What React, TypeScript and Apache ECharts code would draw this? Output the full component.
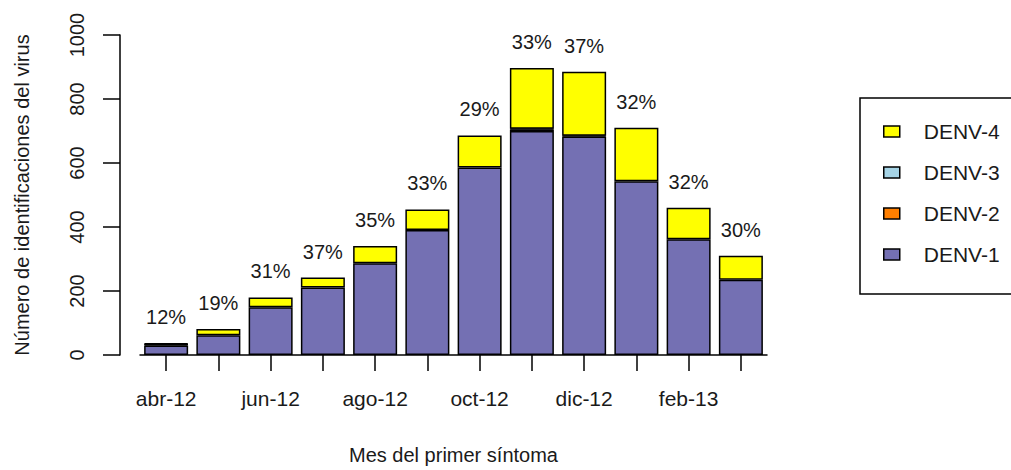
import React, { useEffect, useRef } from "react";
import * as echarts from "echarts";

const months = ["abr-12", "may-12", "jun-12", "jul-12", "ago-12", "sep-12", "oct-12", "nov-12", "dic-12", "ene-13", "feb-13", "mar-13"];
const denv1 = [30, 62, 149, 211, 287, 391, 586, 700, 683, 543, 362, 235];
const denv2 = [3, 0, 0, 0, 0, 0, 0, 5, 2, 0, 0, 0];
const denv3 = [1, 0, 0, 0, 0, 0, 0, 2, 0, 0, 0, 0];
const denv4 = [3, 19, 31, 31, 54, 64, 100, 190, 200, 167, 98, 75];
const percentLabels = ["12%", "19%", "31%", "37%", "35%", "33%", "29%", "33%", "37%", "32%", "32%", "30%"];
const yTicks = [0, 200, 400, 600, 800, 1000];

const FONT = "Liberation Sans, Arial, sans-serif";
const TXT = "#1a1a1a";

export default function App() {
  const ref = useRef<HTMLDivElement>(null);
  useEffect(() => {
    if (!ref.current) return;
    const chart = echarts.init(ref.current, null, { renderer: "svg" });
    const border = { borderColor: "#000", borderWidth: 1.5 };
    const mk = (name: string, data: number[], color: string, extra: any = {}) => ({
      name,
      type: "bar",
      stack: "total",
      data: data.map((v) => (v === 0 ? "-" : v)),
      barWidth: 44,
      itemStyle: { color, ...border },
      emphasis: { disabled: true },
      ...extra,
    });
    chart.setOption({
      animation: false,
      textStyle: { fontFamily: FONT },
      grid: { left: 140, right: 244, top: 35, bottom: 114, containLabel: false },
      graphic: [
        {
          type: "rect",
          shape: { x: 860, y: 98, width: 200, height: 196 },
          style: { fill: "none", stroke: "#000", lineWidth: 1.5 },
          silent: true,
        },
      ],
      legend: {
        data: ["DENV-4", "DENV-3", "DENV-2", "DENV-1"],
        orient: "vertical",
        left: 860,
        top: 98,
        padding: [23, 20, 30, 23],
        itemGap: 20,
        itemWidth: 16,
        itemHeight: 11,
        borderWidth: 0,
        icon: "rect",
        textStyle: { fontSize: 21, color: TXT, fontFamily: FONT, padding: [0, 0, 0, 19] },
        itemStyle: { borderColor: "#000", borderWidth: 1.5 },
      },
      xAxis: {
        type: "category",
        data: months,
        name: "Mes del primer síntoma",
        nameLocation: "middle",
        nameGap: 90,
        nameTextStyle: { fontSize: 20, color: TXT, fontFamily: FONT },
        axisLine: { show: true, lineStyle: { color: "#000", width: 1.5 } },
        axisTick: { show: true, alignWithLabel: true, interval: 0, length: 16, lineStyle: { color: "#000", width: 1.5 } },
        axisLabel: { interval: 1, fontSize: 21, color: TXT, margin: 33, fontFamily: FONT },
      },
      yAxis: {
        type: "value",
        min: 0,
        max: 1000,
        interval: 200,
        offset: 20,
        name: "Número de identificaciones del virus",
        nameLocation: "middle",
        nameRotate: 90,
        nameGap: 88,
        nameTextStyle: { fontSize: 20, color: TXT, fontFamily: FONT },
        splitLine: { show: false },
        axisLine: { show: true, lineStyle: { color: "#000", width: 1.5 } },
        axisTick: { show: true, length: 17, lineStyle: { color: "#000", width: 1.5 } },
        axisLabel: {
          rotate: 90,
          fontSize: 20,
          color: TXT,
          margin: 33,
          fontFamily: FONT,
          formatter: (v: number) => (yTicks.includes(v) ? String(v) : ""),
        },
      },
      series: [
        mk("DENV-1", denv1, "#7470B3"),
        mk("DENV-2", denv2, "#FF7F00"),
        mk("DENV-3", denv3, "#A6D4E6"),
        mk("DENV-4", denv4, "#FFFF00", {
          label: {
            show: true,
            position: "top",
            distance: 16,
            fontSize: 20,
            color: TXT,
            fontFamily: FONT,
            formatter: (p: any) => percentLabels[p.dataIndex],
          },
        }),
      ],
    });
    return () => chart.dispose();
  }, []);
  return (
    <div
      ref={ref}
      style={{ position: "fixed", left: 0, top: 0, width: 1011, height: 470, background: "#fff" }}
    />
  );
}
